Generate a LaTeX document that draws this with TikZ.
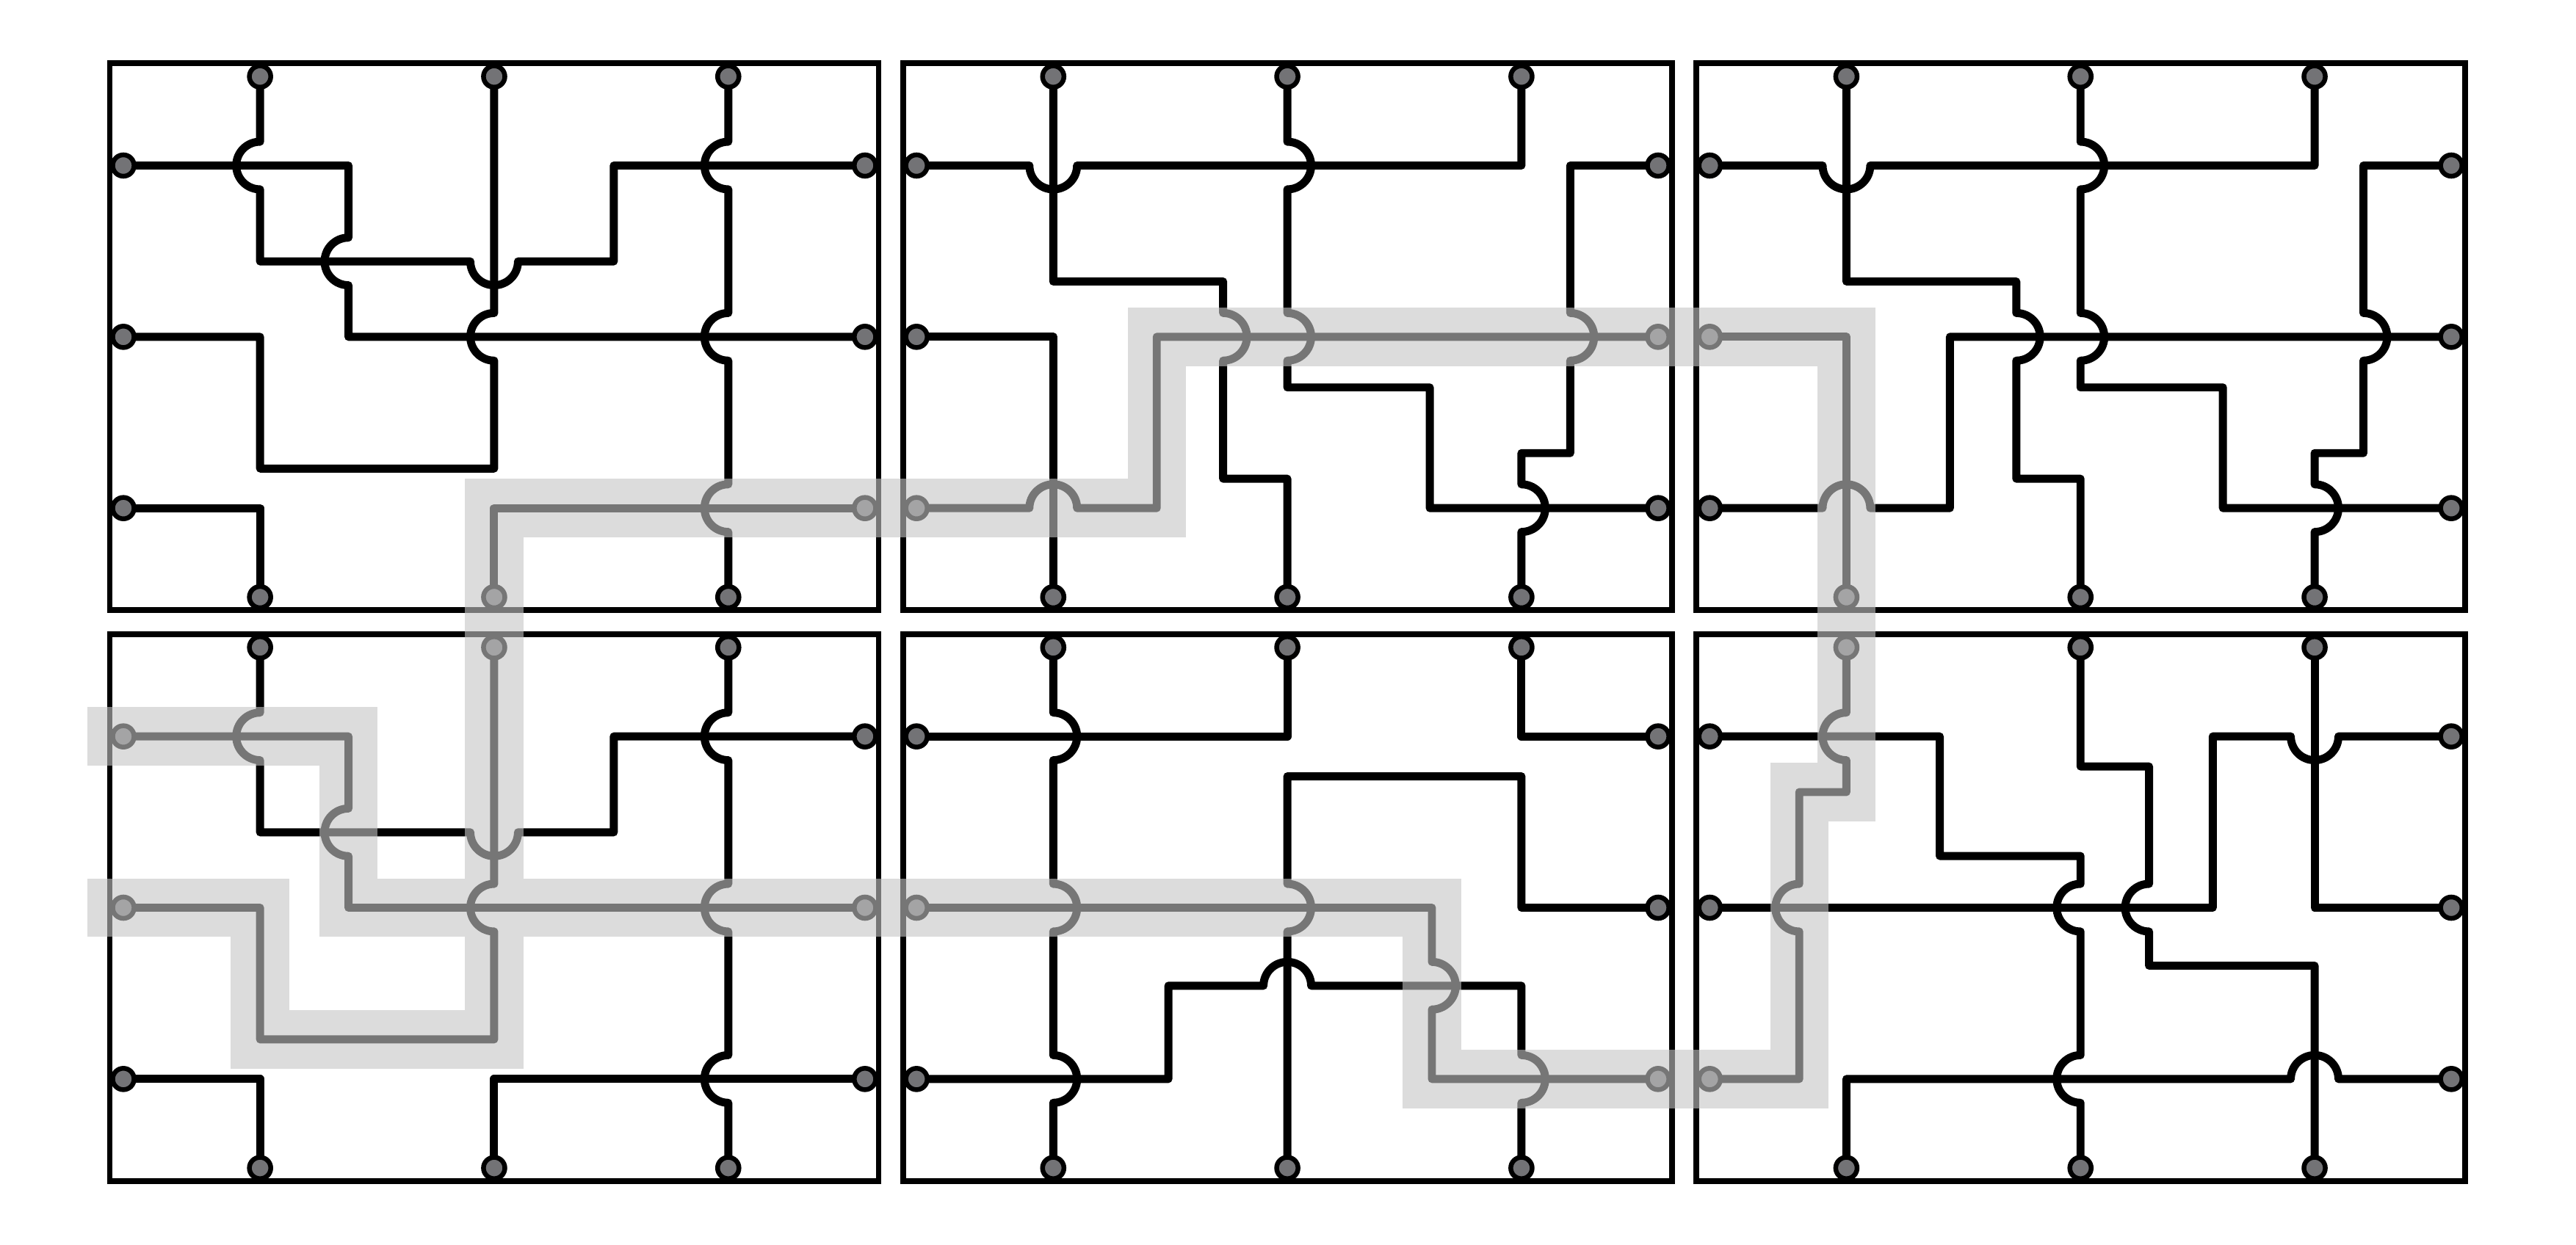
\documentclass[tikz,border=0pt]{standalone}
\definecolor{portc}{RGB}{115,115,118}
\definecolor{bandc}{RGB}{197,197,197}
\tikzset{
  port/.style={circle, draw=black, fill=portc, line width=0.029cm, minimum size=0.13cm, inner sep=0pt, outer sep=0pt},
  wire/.style={line width=0.049cm, line join=round, line cap=butt},
  panelbox/.style={line width=0.035cm},
  band/.style={draw=bandc, draw opacity=0.6, line width=0.355cm, line join=miter, line cap=rect},
}
% hops: vertical travelling down, bulge left / right
\newcommand\vhopL[2]{-- (#1,{#2-14.5}) .. controls ({#1-8},{#2-14.5}) and ({#1-14.5},{#2-8}) .. ({#1-14.5},#2) .. controls ({#1-14.5},{#2+8}) and ({#1-8},{#2+14.5}) .. (#1,{#2+14.5})}
\newcommand\vhopR[2]{-- (#1,{#2-14.5}) .. controls ({#1+8},{#2-14.5}) and ({#1+14.5},{#2-8}) .. ({#1+14.5},#2) .. controls ({#1+14.5},{#2+8}) and ({#1+8},{#2+14.5}) .. (#1,{#2+14.5})}
% hops: horizontal travelling right, bulge down / up
\newcommand\hhopD[2]{-- ({#1-14.5},#2) .. controls ({#1-14.5},{#2+8}) and ({#1-8},{#2+14.5}) .. (#1,{#2+14.5}) .. controls ({#1+8},{#2+14.5}) and ({#1+14.5},{#2+8}) .. ({#1+14.5},#2)}
\newcommand\hhopU[2]{-- ({#1-14.5},#2) .. controls ({#1-14.5},{#2-8}) and ({#1-8},{#2-14.5}) .. (#1,{#2-14.5}) .. controls ({#1+8},{#2-14.5}) and ({#1+14.5},{#2-8}) .. ({#1+14.5},#2)}
\newcommand\mkports[1]{%
  \draw[panelbox] (0,0) rectangle (468,333);
  \node[port] (p#1t1) at (91.5,8) {};
  \node[port] (p#1t2) at (234,8) {};
  \node[port] (p#1t3) at (376.5,8) {};
  \node[port] (p#1b1) at (91.5,325) {};
  \node[port] (p#1b2) at (234,325) {};
  \node[port] (p#1b3) at (376.5,325) {};
  \node[port] (p#1l1) at (8.3,62.2) {};
  \node[port] (p#1l2) at (8.3,166.5) {};
  \node[port] (p#1l3) at (8.3,270.8) {};
  \node[port] (p#1r1) at (459.7,62.2) {};
  \node[port] (p#1r2) at (459.7,166.5) {};
  \node[port] (p#1r3) at (459.7,270.8) {};
}
\newcommand\wiresA[1]{%
  \draw[wire] (p#1t1) \vhopL{91.5}{62.2} -- (91.5,120.6) \hhopD{234}{120.6} -- (306.8,120.6) -- (306.8,62.2) -- (p#1r1);
  \draw[wire] (p#1l1) -- (145.3,62.2) \vhopL{145.3}{120.6} -- (145.3,166.5) -- (p#1r2);
  \draw[wire] (p#1t2) \vhopL{234}{166.5} -- (234,246.7) -- (91.5,246.7) -- (91.5,166.5) -- (p#1l2);
  \draw[wire] (p#1t3) \vhopL{376.5}{62.2} \vhopL{376.5}{166.5} \vhopL{376.5}{270.8} -- (p#1b3);
  \draw[wire] (p#1l3) -- (91.5,270.8) -- (p#1b1);
  \draw[wire] (p#1b2) -- (234,270.8) -- (p#1r3);
}
\newcommand\wiresB[1]{%
  \draw[wire] (p#1l1) \hhopD{91.5}{62.2} -- (376.5,62.2) -- (p#1t3);
  \draw[wire] (p#1t2) \vhopR{234}{62.2} \vhopR{234}{166.5} -- (234,197.3) -- (320.7,197.3) -- (320.7,270.8) -- (p#1r3);
  \draw[wire] (p#1t1) -- (91.5,132.8) -- (194.9,132.8) \vhopR{194.9}{166.5} -- (194.9,252.9) -- (234,252.9) -- (p#1b2);
  \draw[wire] (p#1l2) -- (91.5,166.5) -- (p#1b1);
  \draw[wire] (p#1r1) -- (406.2,62.2) \vhopR{406.2}{166.5} -- (406.2,237.3) -- (376.5,237.3) \vhopR{376.5}{270.8} -- (p#1b3);
  \draw[wire] (p#1l3) \hhopU{91.5}{270.8} -- (154.5,270.8) -- (154.5,166.5) -- (p#1r2);
}
\begin{document}
\begin{tikzpicture}[x=0.01cm, y=-0.01cm]
\useasboundingbox (0,0) rectangle (1568,758);
% panel 1 (top left)
\begin{scope}[shift={(66.8,38.6)}]
  \mkports{1}
  \wiresA{1}
  \coordinate (k11) at (234,270.8);
\end{scope}
% panel 2 (top middle)
\begin{scope}[shift={(549.6,38.6)}]
  \mkports{2}
  \wiresB{2}
  \coordinate (k9) at (154.5,166.5);
  \coordinate (k10) at (154.5,270.8);
\end{scope}
% panel 3 (top right)
\begin{scope}[shift={(1032.4,38.6)}]
  \mkports{3}
  \wiresB{3}
  \coordinate (k8) at (91.5,166.5);
\end{scope}
% panel 4 (bottom left)
\begin{scope}[shift={(66.8,386.2)}]
  \mkports{4}
  \wiresA{4}
  \coordinate (k0) at (4,62.2);
  \coordinate (k1) at (145.3,62.2);
  \coordinate (k2) at (145.3,166.5);
  \coordinate (k12) at (234,246.7);
  \coordinate (k13) at (91.5,246.7);
  \coordinate (k14) at (91.5,166.5);
  \coordinate (k15) at (4,166.5);
\end{scope}
% panel 5 (bottom middle)
\begin{scope}[shift={(549.6,386.2)}]
  \mkports{5}
  \draw[wire] (p5t1) \vhopR{91.5}{62.2} \vhopR{91.5}{166.5} \vhopR{91.5}{270.8} -- (p5b1);
  \draw[wire] (p5l1) -- (234,62.2) -- (p5t2);
  \draw[wire] (p5t3) -- (376.5,62.2) -- (p5r1);
  \draw[wire] (p5r2) -- (376.5,166.5) -- (376.5,86.5) -- (234,86.5) \vhopR{234}{166.5} -- (p5b2);
  \draw[wire] (p5l2) -- (322,166.5) \vhopR{322}{214} -- (322,270.8) -- (p5r3);
  \draw[wire] (p5l3) -- (161.6,270.8) -- (161.6,214) \hhopU{234}{214} -- (376.5,214) \vhopR{376.5}{270.8} -- (p5b3);
  \coordinate (k3) at (322,166.5);
  \coordinate (k4) at (322,270.8);
\end{scope}
% panel 6 (bottom right)
\begin{scope}[shift={(1032.4,386.2)}]
  \mkports{6}
  \draw[wire] (p6l1) -- (148.3,62.2) -- (148.3,135) -- (234,135) \vhopL{234}{166.5} \vhopL{234}{270.8} -- (p6b2);
  \draw[wire] (p6t2) -- (234,80.5) -- (275.7,80.5) \vhopL{275.7}{166.5} -- (275.7,201.8) -- (376.5,201.8) -- (p6b3);
  \draw[wire] (p6t3) -- (376.5,166.5) -- (p6r2);
  \draw[wire] (p6l2) -- (314.5,166.5) -- (314.5,62.2) \hhopD{376.5}{62.2} -- (p6r1);
  \draw[wire] (p6t1) \vhopL{91.5}{62.2} -- (91.5,96.1) -- (62.8,96.1) \vhopL{62.8}{166.5} -- (62.8,270.8) -- (p6l3);
  \draw[wire] (p6b1) -- (91.5,270.8) \hhopU{376.5}{270.8} -- (p6r3);
  \coordinate (k5) at (62.8,270.8);
  \coordinate (k6) at (62.8,96.1);
  \coordinate (k7) at (91.5,96.1);
\end{scope}
% highlighted route
\draw[band] (k0) -- (k1) -- (k2) -- (k3) -- (k4) -- (k5) -- (k6) -- (k7) -- (k8) -- (k9) -- (k10) -- (k11) -- (k12) -- (k13) -- (k14) -- (k15);
\end{tikzpicture}
\end{document}
